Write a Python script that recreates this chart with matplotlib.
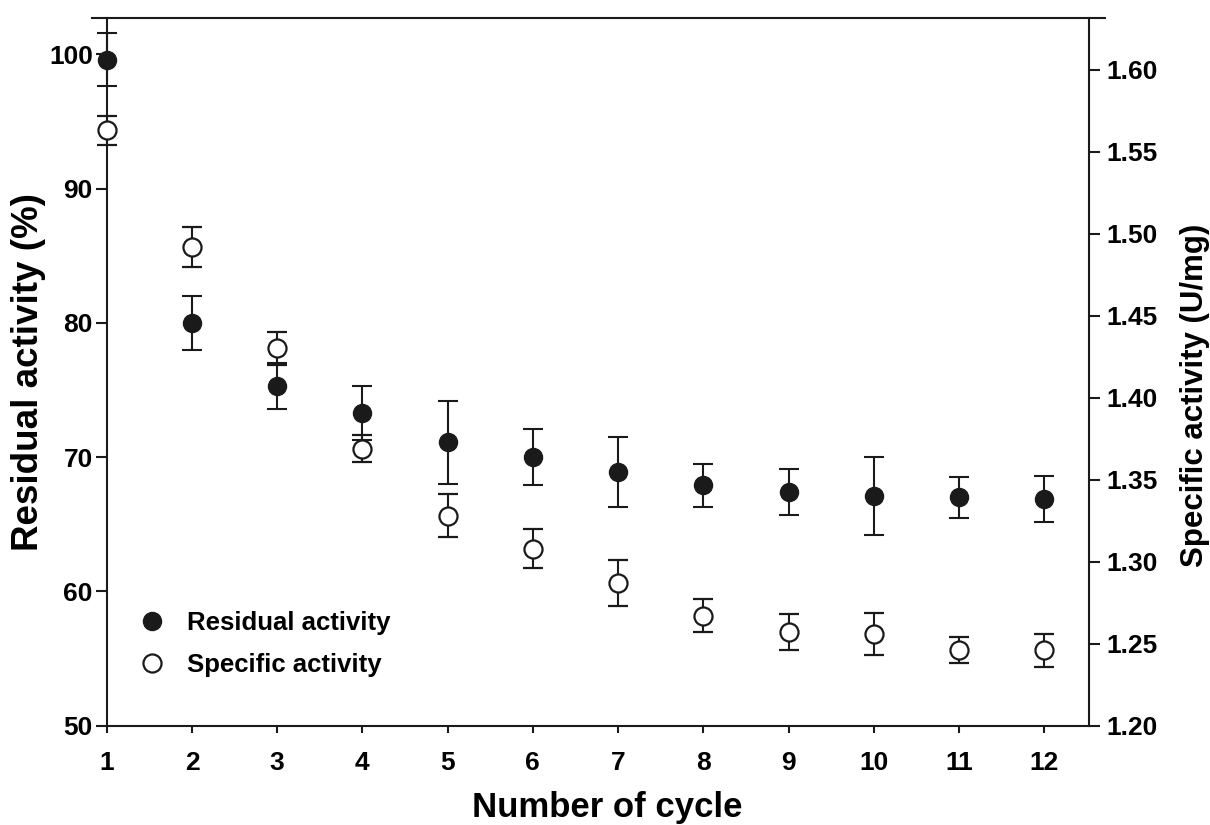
import matplotlib
matplotlib.use("Agg")
import matplotlib.pyplot as plt

# ------------------------
# Data: reuse cycles
# ------------------------
cycles = [1, 2, 3, 4, 5, 6, 7, 8, 9, 10, 11, 12]

# Residual activity (%), left axis
residual = [99.6, 80.0, 75.3, 73.3, 71.1, 70.0, 68.9, 67.9, 67.4, 67.1, 67.0, 66.9]
residual_err = [2.0, 2.0, 1.7, 2.0, 3.1, 2.1, 2.6, 1.6, 1.7, 2.9, 1.5, 1.7]

# Specific activity (U/mg), right axis
specific = [1.563, 1.492, 1.430, 1.369, 1.328, 1.308, 1.287, 1.267, 1.257, 1.256, 1.246, 1.246]
specific_err = [0.009, 0.012, 0.010, 0.008, 0.013, 0.012, 0.014, 0.010, 0.011, 0.013, 0.008, 0.010]

left_ticks = [50, 60, 70, 80, 90, 100]
right_ticks = [1.20, 1.25, 1.30, 1.35, 1.40, 1.45, 1.50, 1.55, 1.60]

ink = "#1a1a1a"
plt.rcParams["font.family"] = ["Liberation Sans", "DejaVu Sans"]
plt.rcParams["font.weight"] = "bold"

fig = plt.figure(figsize=(12.1, 8.25), dpi=100)
ax = fig.add_axes([0.0882, 0.1204, 0.8121, 0.8581])
ax2 = ax.twinx()

# ------------------------
# Series
# ------------------------
ax.errorbar(cycles, residual, yerr=residual_err, fmt="o", color=ink,
            markersize=13, elinewidth=1.5, capsize=7.5, capthick=1.5,
            clip_on=False, zorder=3)
ax2.errorbar(cycles, specific, yerr=specific_err, fmt="o", color=ink,
             markerfacecolor="white", markeredgecolor=ink, markeredgewidth=1.6,
             markersize=13, elinewidth=1.5, capsize=7.5, capthick=1.5,
             clip_on=False, zorder=3)

# ------------------------
# Axes
# ------------------------
ax.set_xlim(1, 12.53)
ax.set_ylim(50, 102.72)
ax2.set_ylim(1.20, 1.6317)

ax.set_xticks(cycles)
ax.set_yticks(left_ticks)
ax2.set_yticks(right_ticks)
ax2.set_yticklabels([f"{t:.2f}" for t in right_ticks])

for a in (ax, ax2):
    a.spines["top"].set_visible(False)
    for s in a.spines.values():
        s.set_linewidth(1.5)
        s.set_color(ink)
    a.tick_params(width=1.5, length=8, color=ink, labelsize=19)

ax.spines["right"].set_visible(False)
ax2.spines["left"].set_visible(False)
ax2.spines["bottom"].set_visible(False)
ax.tick_params(axis="x", length=5, pad=13)
ax.tick_params(axis="y", pad=2)
ax2.tick_params(axis="y", pad=4)

# frame line across the top, running a little past both spines
ax.plot([-0.0153, 1.016], [1, 1], transform=ax.transAxes, color=ink,
        linewidth=1.5, clip_on=False)

ax.set_xlabel("Number of cycle", fontsize=25, fontweight="bold", labelpad=12)
ax.xaxis.label.set_x(0.509)
ax.set_ylabel("Residual activity (%)", fontsize=26.5, fontweight="bold", labelpad=2)
ax2.set_ylabel("Specific activity (U/mg)", fontsize=22.5, fontweight="bold", labelpad=16)
ax2.yaxis.label.set_y(0.467)

# ------------------------
# Legend
# ------------------------
handles = [
    plt.Line2D([], [], marker="o", linestyle="none", color=ink, markersize=13),
    plt.Line2D([], [], marker="o", linestyle="none", markerfacecolor="white",
               markeredgecolor=ink, markeredgewidth=1.6, markersize=13),
]
ax.legend(handles, ["Residual activity", "Specific activity"], loc="upper left",
          bbox_to_anchor=(0.0097, 0.1945), frameon=False,
          handlelength=1.0, handletextpad=0.85, labelspacing=0.7,
          prop={"weight": "bold", "size": 18.5})

fig.savefig("out.png", dpi=100)
